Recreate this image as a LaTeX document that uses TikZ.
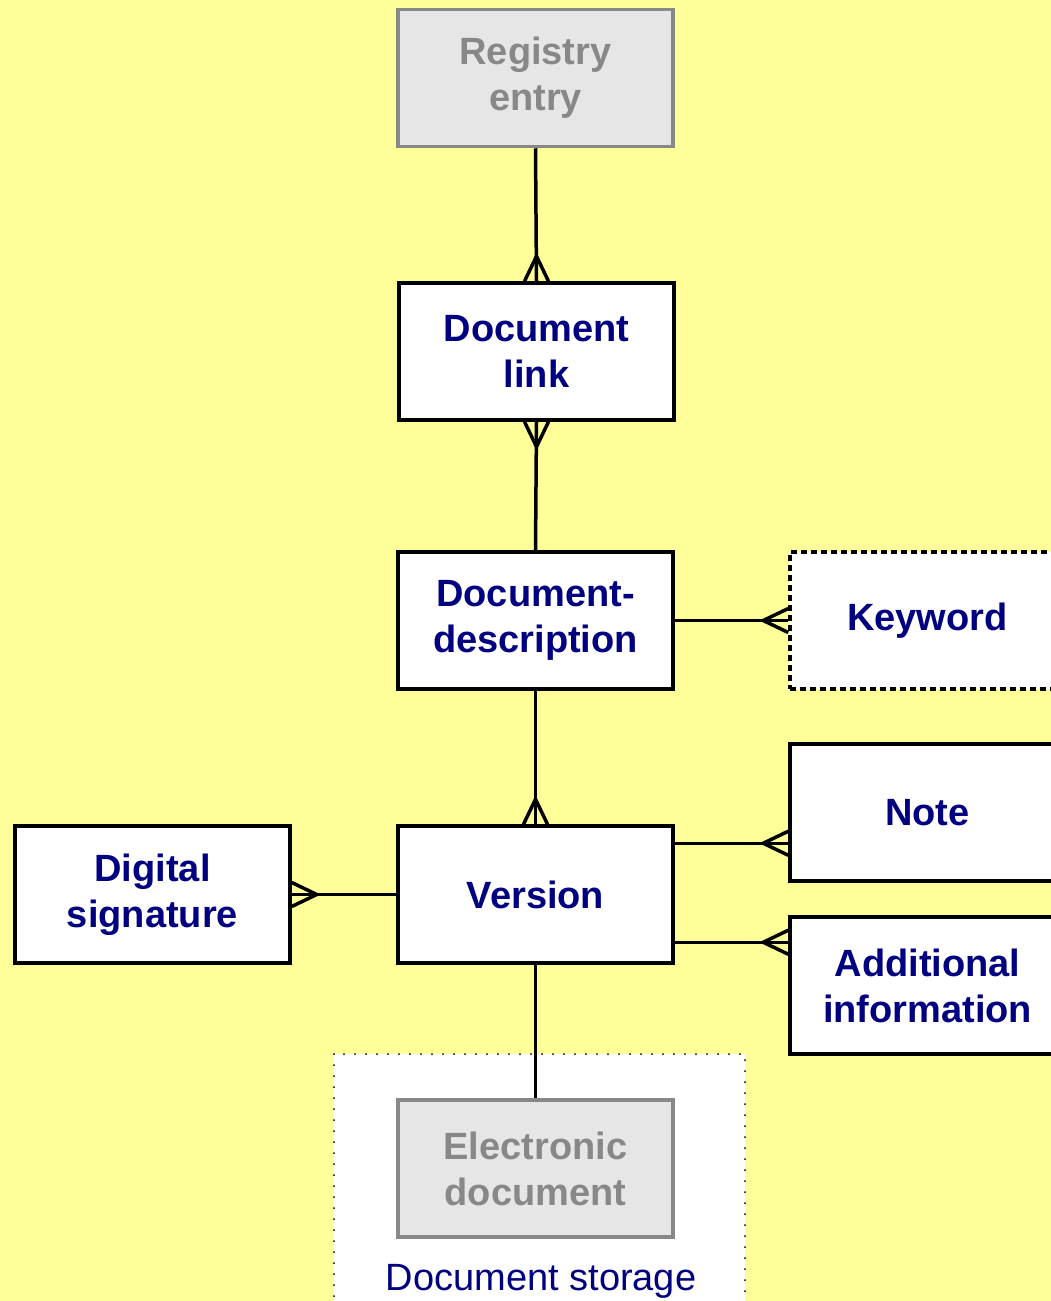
\documentclass[tikz,border=0pt]{standalone}
\usepackage{fontspec}
\setmainfont{Liberation Sans}
\usetikzlibrary{calc}
\definecolor{bgyellow}{HTML}{FFFF99}
\definecolor{navy}{HTML}{000080}
\definecolor{greytext}{HTML}{888888}
\definecolor{greyfill}{HTML}{E6E6E6}
\tikzset{
  entity/.style={draw=black, line width=3.5pt, fill=white, rectangle,
    minimum width=275pt, minimum height=137pt, inner sep=0pt, align=center,
    text=navy, font=\fontsize{38}{46}\selectfont\bfseries},
  ghost/.style={entity, draw=greytext, fill=greyfill, text=greytext},
  optional/.style={entity, dash pattern=on 6pt off 4pt, line width=3.5pt},
  link/.style={line width=3.5pt, black},
  foot/.style={line width=3.5pt, black, line join=miter}
}
\begin{document}
\begin{tikzpicture}[x=1pt,y=-1pt]
\useasboundingbox (0,0) rectangle (1051,1301);
\clip (0,0) rectangle (1051,1301);
\fill[bgyellow] (0,0) rectangle (1051,1301);
% document storage area
\draw[fill=white, line width=2pt, dash pattern=on 0pt off 11pt, line cap=round] (334,1054) rectangle (745,1330);
\node[text=navy, font=\fontsize{38}{46}\selectfont, anchor=base] (storage) at (541,1290) {Document storage};
% nodes
\node[ghost] (reg) at (535.5,78) {Registry\\entry};
\node[entity] (dlink) at (536.5,351.5) {Document\\link};
\node[entity] (ddesc) at (535.5,620.5) {Document-\\description};
\node[optional] (kw) at (927.5,620.5) {Keyword};
\node[entity] (note) at (927.5,812.5) {Note};
\node[entity] (addi) at (927.5,985.5) {Additional\\information};
\node[entity] (ver) at (535.5,894.5) {Version};
\node[entity] (dsig) at (152.5,894.5) {Digital\\signature};
\node[ghost] (edoc) at (535.5,1168.5) {Electronic\\document};
% connectors
\draw[link] (reg.south) -- (dlink.north);
\draw[foot] ([xshift=-12pt]dlink.north) -- ([yshift=25pt]dlink.north) -- ([xshift=12pt]dlink.north);
\draw[link] (dlink.south) -- (ddesc.north);
\draw[foot] ([xshift=-12pt]dlink.south) -- ([yshift=-25pt]dlink.south) -- ([xshift=12pt]dlink.south);
\draw[link] (ddesc.east) -- (kw.west);
\draw[foot] ([yshift=12pt]kw.west) -- ([xshift=-25pt]kw.west) -- ([yshift=-12pt]kw.west);
\draw[link] (ddesc.south) -- (ver.north);
\draw[foot] ([xshift=-12pt]ver.north) -- ([yshift=25pt]ver.north) -- ([xshift=12pt]ver.north);
\coordinate (v1) at ([yshift=-19pt]ver.north east);
\coordinate (n1) at (v1 -| note.west);
\draw[link] (v1) -- (n1);
\draw[foot] ([yshift=12pt]n1) -- ([xshift=-25pt]n1) -- ([yshift=-12pt]n1);
\coordinate (v2) at ([yshift=-118pt]ver.north east);
\coordinate (a1) at (v2 -| addi.west);
\draw[link] (v2) -- (a1);
\draw[foot] ([yshift=12pt]a1) -- ([xshift=-25pt]a1) -- ([yshift=-12pt]a1);
\draw[link] (ver.west) -- (dsig.east);
\draw[foot] ([yshift=12pt]dsig.east) -- ([xshift=25pt]dsig.east) -- ([yshift=-12pt]dsig.east);
\draw[link] (ver.south) -- (edoc.north);
\end{tikzpicture}
\end{document}
